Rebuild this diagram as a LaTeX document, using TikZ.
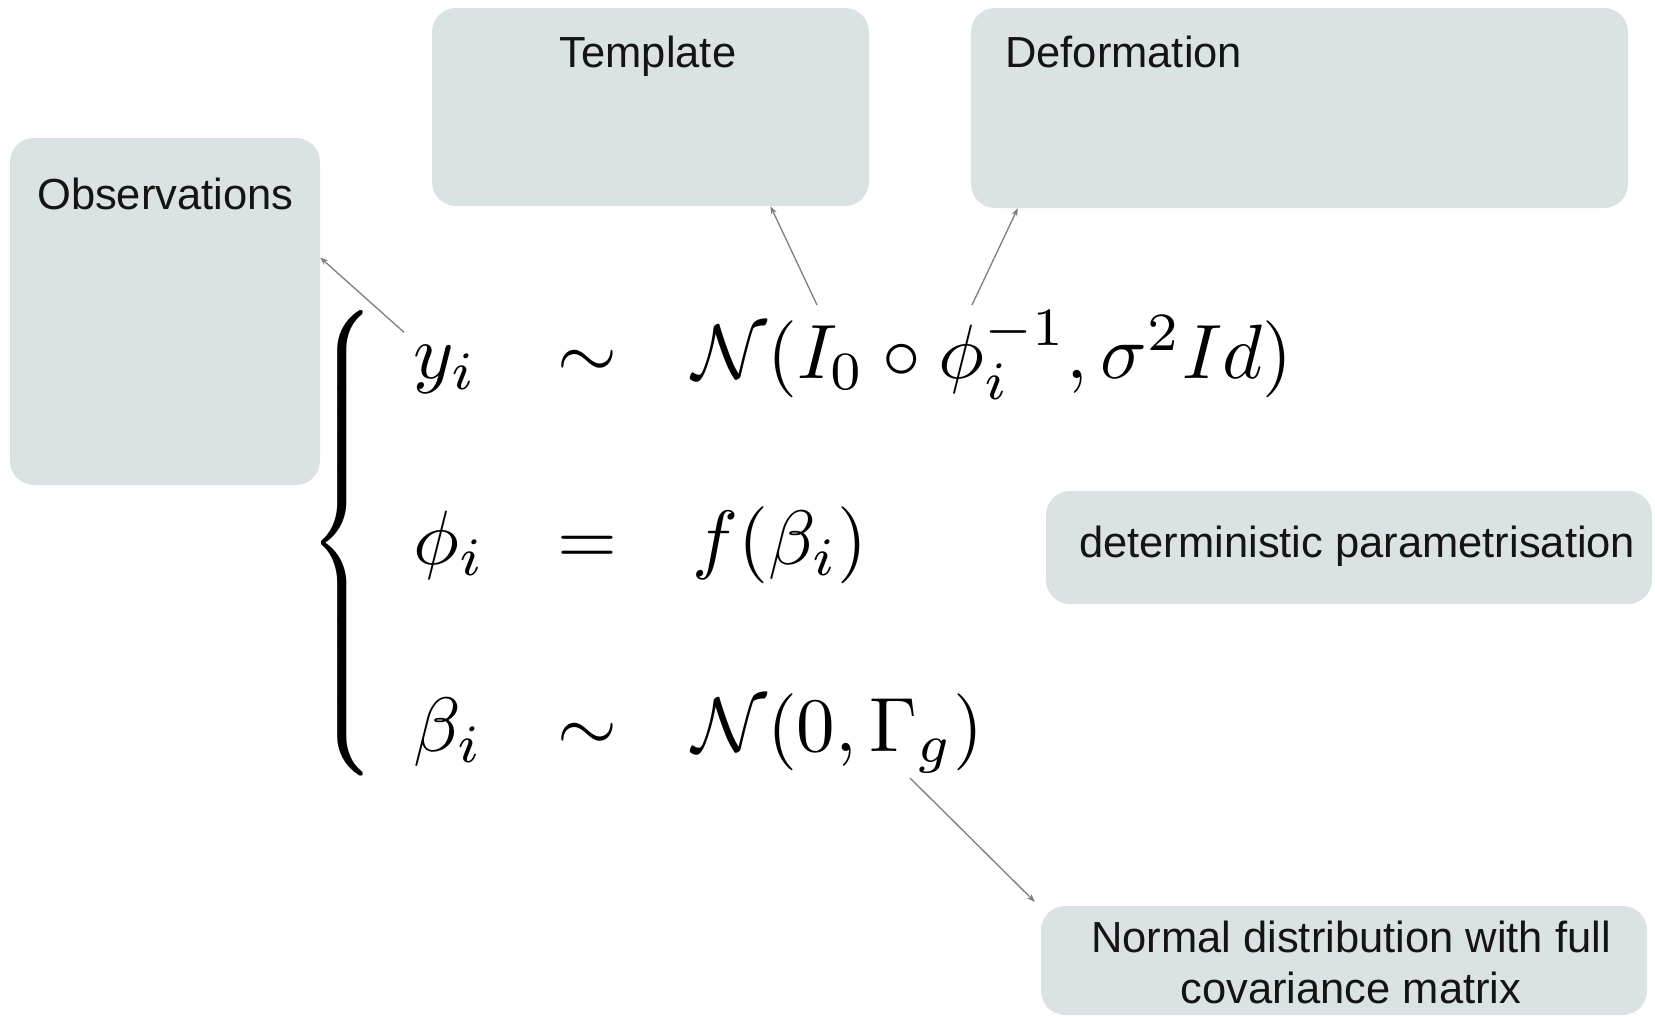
\documentclass[tikz,border=0pt]{standalone}
\usepackage{fontspec}
\newfontfamily\labfont{Liberation Sans}
\usetikzlibrary{arrows.meta,calc}
\definecolor{boxfill}{RGB}{219,226,227}
\definecolor{arrowgray}{RGB}{125,125,125}
\definecolor{textcol}{RGB}{20,20,20}
\begin{document}
\begin{tikzpicture}[x=1pt,y=-1pt,
  box/.style={draw=none,fill=boxfill,rounded corners=24pt,inner sep=0pt},
  lab/.style={font=\labfont\fontsize{43.5}{51}\selectfont,inner sep=0pt,text=textcol},
  mth/.style={font=\fontsize{10}{12}\selectfont,inner sep=0pt,scale=7.7,transform shape},
  bracestyle/.style={font=\fontsize{10}{12}\selectfont,inner sep=0pt,xscale=7.6,yscale=8.62,transform shape},
  conn/.style={draw=arrowgray,line width=1.3pt,-{Stealth[length=8pt,width=6pt]}}]
\useasboundingbox (0,0) rectangle (1655,1017);
% boxes
\node[box,minimum width=310pt,minimum height=347pt] (obsbox) at (165,311.5) {};
\node[box,minimum width=437pt,minimum height=198pt] (tempbox) at (650.5,107) {};
\node[box,minimum width=657pt,minimum height=200pt] (defbox) at (1299.5,108) {};
\node[box,minimum width=606pt,minimum height=113pt] (detbox) at (1349,547.5) {};
\node[box,minimum width=606pt,minimum height=109pt] (normbox) at (1344,960.5) {};
% labels
\node[lab,anchor=base] (templab) at (648,67) {Template};
\node[lab,anchor=base west] (deflab) at (1005,67) {Deformation};
\node[lab,anchor=base west] (obslab) at (37,209) {Observations};
\node[lab,anchor=base west] (detlab) at (1079,557) {deterministic parametrisation};
\node[lab,anchor=base] (normlab1) at (1351,952) {Normal distribution with full};
\node[lab,anchor=base] (normlab2) at (1351,1003) {covariance matrix};
% equations
\node[bracestyle,anchor=east] (brace) at (387,543) {$\left\{\vcenter{\hrule height 58pt width 0pt}\right.$};
\node[mth,anchor=base west] (y) at (412,378) {$y_i$};
\node[mth,anchor=base] (sim1) at (587,378) {$\sim$};
\node[mth,anchor=base west] (N1) at (691,378) {$\mathcal{N}(I_0\circ\phi_i^{-1},\sigma^2 Id)$};
\node[mth,anchor=base west] (phi) at (412,564) {$\phi_i$};
\node[mth,anchor=base] (eq) at (587,564) {$=$};
\node[mth,anchor=base west] (f) at (691,564) {$f(\beta_i)$};
\node[mth,anchor=base west] (beta) at (412,751) {$\beta_i$};
\node[mth,anchor=base] (sim2) at (587,751) {$\sim$};
\node[mth,anchor=base west] (N2) at (691,751) {$\mathcal{N}(0,\Gamma_g)$};
% connectors
\draw[conn] ([xshift=-8pt,yshift=11pt]y.north west) -- ([yshift=54pt]obsbox.east);
\draw[conn] ([xshift=126pt,yshift=73pt]N1.base west) -- ([xshift=120pt]tempbox.south);
\draw[conn] ([xshift=281pt,yshift=73pt]N1.base west) -- ([xshift=47pt]defbox.south west);
\draw[conn] ([xshift=219pt,yshift=-27pt]N2.base west) -- ([xshift=-6pt,yshift=4pt]normbox.north west);
\end{tikzpicture}
\end{document}
